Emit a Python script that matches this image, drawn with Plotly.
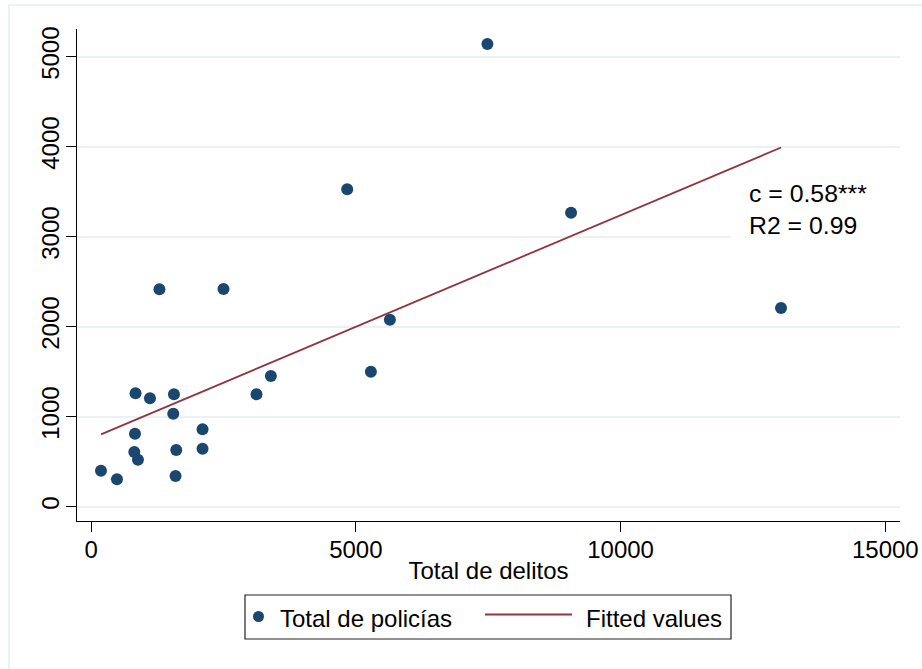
import numpy as np
import plotly.graph_objects as go

# Crime totals (x) and police totals (y) per unit
delitos = [187, 489, 840, 1112, 1565, 1552, 829, 816, 885, 1608, 1595, 2105,
           2105, 1291, 2501, 3124, 3396, 4837, 5284, 5643, 7485, 9065, 13030]
policias = [400, 304, 1260, 1204, 1249, 1033, 811, 608, 522, 630, 341, 860,
            644, 2417, 2419, 1249, 1452, 3527, 1500, 2078, 5141, 3267, 2208]

x_ticks = [0, 5000, 10000, 15000]
x_tick_labels = ["0", "5000", "10000", "15000"]
y_ticks = [0, 1000, 2000, 3000, 4000, 5000]
y_tick_labels = ["0", "1000", "2000", "3000", "4000", "5000"]

x_title = "Total de delitos"
scatter_name = "Total de policías"
fit_name = "Fitted values"
stats_text = "c = 0.58***<br>R2 = 0.99"

NAVY = "#1a476f"
MAROON = "#90353b"
GRID = "#eaf2f3"
FONT = "Arial, Liberation Sans, sans-serif"

# Linear fit over the observed range
slope, intercept = np.polyfit(delitos, policias, 1)
fit_x = np.sort(np.array(delitos, dtype=float))
fit_y = intercept + slope * fit_x

W, H = 922, 669
ML, MR, MT, MB = 77, 22, 29, 148
PW, PH = W - ML - MR, H - MT - MB
X_RANGE = [-266, 15277]
Y_RANGE = [-159, 5308]


def px(xp):
    return (xp - ML) / PW


def py(yp):
    return 1 - (yp - MT) / PH


def dx(xp):
    # pixel column -> x data value
    return X_RANGE[0] + (xp - ML) / PW * (X_RANGE[1] - X_RANGE[0])


def dy(yp):
    # pixel row -> y data value
    return Y_RANGE[1] - (yp - MT) / PH * (Y_RANGE[1] - Y_RANGE[0])


fig = go.Figure()
fig.add_trace(go.Scatter(
    x=delitos, y=policias, mode="markers", name=scatter_name,
    marker=dict(color=NAVY, size=12, line=dict(width=0)),
    showlegend=False,
))
fig.add_trace(go.Scatter(
    x=fit_x, y=fit_y, mode="lines", name=fit_name,
    line=dict(color=MAROON, width=1.8),
    showlegend=False,
))

shapes = [
    # outer graph region frame
    dict(type="rect", xref="paper", yref="paper",
         x0=px(9), x1=px(940), y0=py(690), y1=py(5),
         line=dict(color="#e6eef0", width=1.5), fillcolor="rgba(0,0,0,0)",
         layer="below"),
    # white box behind the statistics text (hides the grid line there)
    dict(type="rect", xref="x", yref="y",
         x0=dx(731), x1=dx(960), y0=dy(245), y1=dy(176),
         line=dict(width=0), fillcolor="white", layer="between"),
    # legend frame
    dict(type="rect", xref="paper", yref="paper",
         x0=px(245), x1=px(731), y0=py(639), y1=py(595),
         line=dict(color="#222222", width=1.2), fillcolor="white"),
    # legend marker
    dict(type="circle", xref="paper", yref="paper",
         x0=px(253), x1=px(264), y0=py(622), y1=py(611),
         line=dict(width=0), fillcolor=NAVY),
    # legend line
    dict(type="line", xref="paper", yref="paper",
         x0=px(485), x1=px(572), y0=py(614.5), y1=py(614.5),
         line=dict(color=MAROON, width=1.8)),
]

annotations = [
    dict(text=stats_text, xref="paper", yref="paper",
         x=px(747), y=py(209.5), xanchor="left", yanchor="middle",
         align="left", showarrow=False,
         font=dict(family=FONT, size=24.8, color="black")),
    dict(text=scatter_name, xref="paper", yref="paper",
         x=px(278), y=py(618), xanchor="left", yanchor="middle",
         showarrow=False, font=dict(family=FONT, size=24, color="black")),
    dict(text=fit_name, xref="paper", yref="paper",
         x=px(584), y=py(618), xanchor="left", yanchor="middle",
         showarrow=False, font=dict(family=FONT, size=24, color="black")),
]

fig.update_layout(
    width=W, height=H,
    margin=dict(l=ML, r=MR, t=MT, b=MB, pad=0, autoexpand=False),
    paper_bgcolor="white", plot_bgcolor="white",
    font=dict(family=FONT, color="black"),
    shapes=shapes, annotations=annotations,
    showlegend=False,
    xaxis=dict(
        range=X_RANGE, tickmode="array", tickvals=x_ticks,
        ticktext=x_tick_labels, automargin=False,
        ticklabelstandoff=-3,
        ticks="outside", ticklen=10, tickwidth=1.3, tickcolor="black",
        showline=True, linecolor="black", linewidth=1.3,
        showgrid=False, zeroline=False,
        tickfont=dict(family=FONT, size=24, color="black"),
        title=dict(text=x_title, standoff=0,
                   font=dict(family=FONT, size=24, color="black")),
    ),
    yaxis=dict(
        range=Y_RANGE, tickmode="array", tickvals=y_ticks,
        ticktext=y_tick_labels, automargin=False,
        tickangle=-90, ticklabelstandoff=-3,
        ticks="outside", ticklen=10, tickwidth=1.3, tickcolor="black",
        showline=True, linecolor="black", linewidth=1.3,
        showgrid=True, gridcolor=GRID, gridwidth=2, zeroline=False,
        tickfont=dict(family=FONT, size=24, color="black"),
    ),
)

fig.write_html("out.html")
